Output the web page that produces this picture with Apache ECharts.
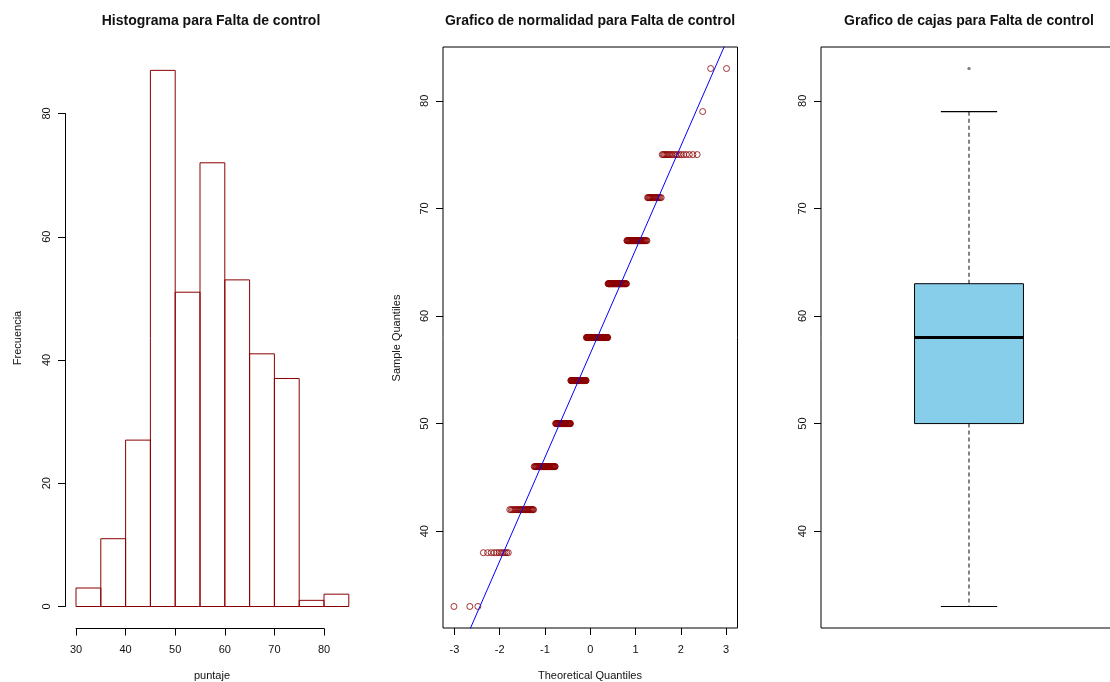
<!DOCTYPE html>
<html>
<head>
<meta charset="utf-8">
<script src="https://cdn.jsdelivr.net/npm/echarts@6.0.0/dist/echarts.min.js"></script>
<style>
  html, body { margin: 0; padding: 0; background: #fff; }
  #chart { width: 1110px; height: 682px; }
</style>
</head>
<body>
<div id="chart"></div>
<script>
// Histogram: bin edges (width 5) and frequency per bin
const binStarts = [30, 35, 40, 45, 50, 55, 60, 65, 70, 75, 80];
const binCounts = [3, 11, 27, 87, 51, 72, 53, 41, 37, 1, 2];

// Observed scores and how many times each one occurs (n = 385)
const scoreLevels = [33, 38, 42, 46, 50, 54, 58, 63, 67, 71, 75, 79, 83];
const scoreCounts = [3, 11, 27, 44, 43, 51, 72, 53, 41, 18, 19, 1, 2];

// Reference line of the normal plot (through the quartiles), given by two end points
const qqLineEnds = [[-3.3, 24.7], [3.3, 88.3]];

// Five-number summary of the box plot and points beyond the whiskers
const boxStats = [33, 50, 58, 63, 79];
const boxOutliers = [83, 83];

// Tick labels
const histXTicks = [30, 40, 50, 60, 70, 80];
const histYTicks = [0, 20, 40, 60, 80];
const qqXTicks = [-3, -2, -1, 0, 1, 2, 3];
const sampleYTicks = [40, 50, 60, 70, 80];

const BIN_WIDTH = 5;

// Inverse of the standard normal CDF (Acklam's rational approximation)
function qnorm(p) {
  const a = [-3.969683028665376e+01, 2.209460984245205e+02, -2.759285104469687e+02,
             1.383577518672690e+02, -3.066479806614716e+01, 2.506628277459239e+00];
  const b = [-5.447609879822406e+01, 1.615858368580409e+02, -1.556989798598866e+02,
             6.680131188771972e+01, -1.328068155288572e+01];
  const c = [-7.784894002430293e-03, -3.223964580411365e-01, -2.400758277161838e+00,
             -2.549732539343734e+00, 4.374664141464968e+00, 2.938163982698783e+00];
  const d = [7.784695709041462e-03, 3.224671290700398e-01, 2.445134137142996e+00,
             3.754408661907416e+00];
  const pl = 0.02425, ph = 1 - pl;
  let q, r;
  if (p < pl) {
    q = Math.sqrt(-2 * Math.log(p));
    return (((((c[0]*q+c[1])*q+c[2])*q+c[3])*q+c[4])*q+c[5]) /
           ((((d[0]*q+d[1])*q+d[2])*q+d[3])*q+1);
  } else if (p <= ph) {
    q = p - 0.5; r = q * q;
    return (((((a[0]*r+a[1])*r+a[2])*r+a[3])*r+a[4])*r+a[5])*q /
           (((((b[0]*r+b[1])*r+b[2])*r+b[3])*r+b[4])*r+1);
  } else {
    q = Math.sqrt(-2 * Math.log(1 - p));
    return -(((((c[0]*q+c[1])*q+c[2])*q+c[3])*q+c[4])*q+c[5]) /
            ((((d[0]*q+d[1])*q+d[2])*q+d[3])*q+1);
  }
}

// Sorted sample paired with normal plotting positions (i - 0.5) / n
const sorted = [];
scoreLevels.forEach((v, k) => { for (let j = 0; j < scoreCounts[k]; j++) sorted.push(v); });
const n = sorted.length;
const qqPoints = sorted.map((v, i) => [qnorm((i + 0.5) / n), v]);

const histData = binStarts.map((s, i) => [s, s + BIN_WIDTH, binCounts[i]]);

const INK = '#000';
const DARKRED = '#8B0000';
const FONT = '"Liberation Sans", Arial, sans-serif';

const tickLabel = { color: '#111', fontSize: 11, fontFamily: FONT };

function titleText(text, x) {
  return { type: 'text', x: x, y: 21, style: { text: text, align: 'center', verticalAlign: 'middle',
    fontSize: 14, fontWeight: 'bold', fontFamily: FONT, fill: '#111' } };
}
function axisTitle(text, x, y, rotated) {
  return { type: 'text', x: x, y: y, rotation: rotated ? Math.PI / 2 : 0,
    style: { text: text, align: 'center', verticalAlign: 'middle',
      fontSize: 11, fontFamily: FONT, fill: '#111' } };
}

const chart = echarts.init(document.getElementById('chart'), null, { renderer: 'canvas' });

chart.setOption({
  animation: false,
  backgroundColor: '#fff',
  graphic: [
    titleText('Histograma para Falta de control', 211),
    titleText('Grafico de normalidad para Falta de control', 590),
    titleText('Grafico de cajas para Falta de control', 969),
    axisTitle('puntaje', 212, 676, false),
    axisTitle('Frecuencia', 18, 338, true),
    axisTitle('Theoretical Quantiles', 590, 676, false),
    axisTitle('Sample Quantiles', 397, 338, true)
  ],
  grid: [
    { left: 76, top: 113.5, width: 248, height: 493, show: false, outerBoundsMode: 'none' },
    { left: 443, top: 47, width: 294.5, height: 581, show: true, outerBoundsMode: 'none',
      borderColor: INK, borderWidth: 1, backgroundColor: 'transparent' },
    { left: 821, top: 47, width: 296, height: 581, show: true, outerBoundsMode: 'none',
      borderColor: INK, borderWidth: 1, backgroundColor: 'transparent' }
  ],
  xAxis: [
    { gridIndex: 0, type: 'value', min: 30, max: 80, interval: 10, offset: 22,
      axisLine: { show: true, onZero: false, lineStyle: { color: INK, width: 1 } },
      axisTick: { show: true, length: 7, lineStyle: { color: INK } },
      axisLabel: Object.assign({ margin: 16, formatter: v => histXTicks.includes(v) ? String(v) : '' }, tickLabel),
      splitLine: { show: false } },
    { gridIndex: 1, type: 'value', min: -3.254, max: 3.254,
      axisLine: { show: false, onZero: false },
      axisTick: { show: true, length: 7, lineStyle: { color: INK }, customValues: qqXTicks },
      axisLabel: Object.assign({ margin: 16, customValues: qqXTicks }, tickLabel),
      splitLine: { show: false } },
    { gridIndex: 2, type: 'value', min: 0.5, max: 1.5,
      axisLine: { show: false, onZero: false }, axisTick: { show: false }, axisLabel: { show: false },
      splitLine: { show: false } }
  ],
  yAxis: [
    { gridIndex: 0, type: 'value', min: 0, max: 80, interval: 20, offset: 11,
      axisLine: { show: true, onZero: false, lineStyle: { color: INK, width: 1 } },
      axisTick: { show: true, length: 7, lineStyle: { color: INK } },
      axisLabel: Object.assign({ margin: 13, rotate: 90, formatter: v => histYTicks.includes(v) ? String(v) : '' }, tickLabel),
      splitLine: { show: false } },
    { gridIndex: 1, type: 'value', min: 31, max: 85,
      axisLine: { show: false, onZero: false },
      axisTick: { show: true, length: 7, lineStyle: { color: INK }, customValues: sampleYTicks },
      axisLabel: Object.assign({ margin: 13, rotate: 90, customValues: sampleYTicks }, tickLabel),
      splitLine: { show: false } },
    { gridIndex: 2, type: 'value', min: 31, max: 85,
      axisLine: { show: false, onZero: false },
      axisTick: { show: true, length: 7, lineStyle: { color: INK }, customValues: sampleYTicks },
      axisLabel: Object.assign({ margin: 13, rotate: 90, customValues: sampleYTicks }, tickLabel),
      splitLine: { show: false } }
  ],
  series: [
    {
      // frequency bars, outlined only
      type: 'custom', name: 'Frecuencia', xAxisIndex: 0, yAxisIndex: 0, clip: false,
      data: histData,
      encode: { x: [0, 1], y: 2 },
      renderItem: function (params, api) {
        const p0 = api.coord([api.value(0), api.value(2)]);
        const p1 = api.coord([api.value(1), 0]);
        return { type: 'rect',
          shape: { x: p0[0], y: p0[1], width: p1[0] - p0[0], height: p1[1] - p0[1] },
          style: { fill: 'none', stroke: DARKRED, lineWidth: 1 } };
      }
    },
    {
      type: 'scatter', name: 'Sample Quantiles', xAxisIndex: 1, yAxisIndex: 1,
      data: qqPoints, symbol: 'circle', symbolSize: 6,
      itemStyle: { color: 'transparent', borderColor: DARKRED, borderWidth: 1 },
      emphasis: { disabled: true }
    },
    {
      type: 'line', name: 'qqline', xAxisIndex: 1, yAxisIndex: 1,
      data: qqLineEnds, symbol: 'none', clip: true,
      lineStyle: { color: '#0000FF', width: 1 }
    },
    {
      // box, dashed whiskers, staples and median
      type: 'custom', name: 'Falta de control', xAxisIndex: 2, yAxisIndex: 2,
      data: [[1].concat(boxStats)],
      encode: { x: 0, y: [1, 2, 3, 4, 5] },
      renderItem: function (params, api) {
        const cx = api.value(0);
        const half = api.size([0.184, 0])[0];
        const staple = api.size([0.095, 0])[0];
        const pMin = api.coord([cx, api.value(1)]);
        const pQ1 = api.coord([cx, api.value(2)]);
        const pMed = api.coord([cx, api.value(3)]);
        const pQ3 = api.coord([cx, api.value(4)]);
        const pMax = api.coord([cx, api.value(5)]);
        const x = pMin[0];
        const dashed = { stroke: '#333', lineWidth: 1.2, lineDash: [4, 3], fill: null };
        const solid = { stroke: INK, lineWidth: 1.2, fill: null };
        return { type: 'group', children: [
          { type: 'line', shape: { x1: x, y1: pQ1[1], x2: x, y2: pMin[1] }, style: dashed },
          { type: 'line', shape: { x1: x, y1: pQ3[1], x2: x, y2: pMax[1] }, style: dashed },
          { type: 'line', shape: { x1: x - staple, y1: pMin[1], x2: x + staple, y2: pMin[1] }, style: solid },
          { type: 'line', shape: { x1: x - staple, y1: pMax[1], x2: x + staple, y2: pMax[1] }, style: solid },
          { type: 'rect', shape: { x: x - half, y: pQ3[1], width: 2 * half, height: pQ1[1] - pQ3[1] },
            style: { fill: '#87CEEB', stroke: INK, lineWidth: 1 } },
          { type: 'line', shape: { x1: x - half, y1: pMed[1], x2: x + half, y2: pMed[1] },
            style: { stroke: INK, lineWidth: 3.2 } }
        ] };
      }
    },
    {
      type: 'scatter', name: 'outliers', xAxisIndex: 2, yAxisIndex: 2,
      data: boxOutliers.map(v => [1, v]), symbol: 'circle', symbolSize: 3,
      itemStyle: { color: '#777' }, emphasis: { disabled: true }
    }
  ]
});
</script>
</body>
</html>
